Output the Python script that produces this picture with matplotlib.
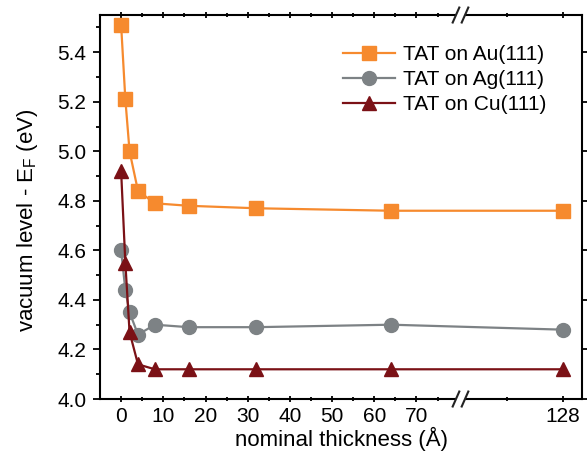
import numpy as np
import matplotlib
matplotlib.use('Agg')
import matplotlib.pyplot as plt
from matplotlib.ticker import FixedLocator, MultipleLocator

plt.rcParams['font.family'] = ['Liberation Sans', 'DejaVu Sans']
plt.rcParams['mathtext.default'] = 'regular'

# Data
thickness = [0, 1, 2, 4, 8, 16, 32, 64, 128]
au = [5.51, 5.21, 5.00, 4.84, 4.79, 4.78, 4.77, 4.76, 4.76]
ag = [4.60, 4.44, 4.35, 4.26, 4.30, 4.29, 4.29, 4.30, 4.28]
cu = [4.92, 4.55, 4.27, 4.14, 4.12, 4.12, 4.12, 4.12, 4.12]
labels = ['TAT on Au(111)', 'TAT on Ag(111)', 'TAT on Cu(111)']

major_x = [0, 10, 20, 30, 40, 50, 60, 70, 128]
minor_x = [5, 15, 25, 35, 45, 55, 65, 75, 100]

# broken x axis: compress everything beyond the break
brk = 84.0
k = 0.47


def fwd(x):
    x = np.asarray(x, dtype=float)
    return np.where(x <= brk, x, brk + (x - brk) * k)


def inv(u):
    u = np.asarray(u, dtype=float)
    return np.where(u <= brk, u, brk + (u - brk) / k)


fig = plt.figure(figsize=(5.87, 4.54), dpi=100)
ax = fig.add_axes([0.1704, 0.1211, 0.8211, 0.8458])
ax.set_xscale('function', functions=(fwd, inv))

ax.plot(thickness, au, '-s', color='#f68a2e', lw=1.6, ms=9.5, mec='#f68a2e', label=labels[0])
ax.plot(thickness, ag, '-o', color='#7d8285', lw=1.6, ms=10, mec='#7d8285', label=labels[1])
ax.plot(thickness, cu, '-^', color='#7b1116', lw=1.6, ms=10, mec='#7b1116', label=labels[2])

ax.set_xlim(-5, 137.7)
ax.set_ylim(4.0, 5.55)

ax.xaxis.set_major_locator(FixedLocator(major_x))
ax.xaxis.set_minor_locator(FixedLocator(minor_x))
ax.set_xticklabels([str(v) for v in major_x])
ax.yaxis.set_major_locator(MultipleLocator(0.2))
ax.yaxis.set_minor_locator(MultipleLocator(0.1))
ax.yaxis.set_major_formatter(matplotlib.ticker.FormatStrFormatter('%.1f'))

for s in ax.spines.values():
    s.set_linewidth(1.5)
ax.tick_params(axis='both', which='both', direction='out', width=1.3, labelsize=15, pad=5)
ax.tick_params(which='major', length=5)
ax.tick_params(which='minor', length=3)
ax.tick_params(axis='y', right=True)
ax.tick_params(axis='x', which='both', direction='inout', top=True)
ax.tick_params(axis='x', which='both', pad=3)

ax.set_xlabel('nominal thickness (\u00c5)', fontsize=16, labelpad=1)
ax.set_ylabel('vacuum level - E$_{F}$ (eV)', fontsize=16)
ax.yaxis.set_label_coords(-0.125, 0.465)

# break marks on the top and bottom spines
for yy in (0.0, 1.0):
    ax.plot([0.739, 0.757], [yy, yy], color='white', lw=4, transform=ax.transAxes,
            clip_on=False, zorder=5, solid_capstyle='butt')
    for dx in (0.0, 0.0187):
        ax.plot([0.7317 + dx, 0.7454 + dx], [yy - 0.0195, yy + 0.0195], color='#222222', lw=1.5,
                transform=ax.transAxes, clip_on=False, zorder=6)

ax.legend(loc='upper left', bbox_to_anchor=(0.504, 0.922), frameon=False, fontsize=15,
          borderpad=0, borderaxespad=0, handlelength=2.5, handletextpad=0.4, labelspacing=0.3)

fig.savefig('out.png', dpi=100)
